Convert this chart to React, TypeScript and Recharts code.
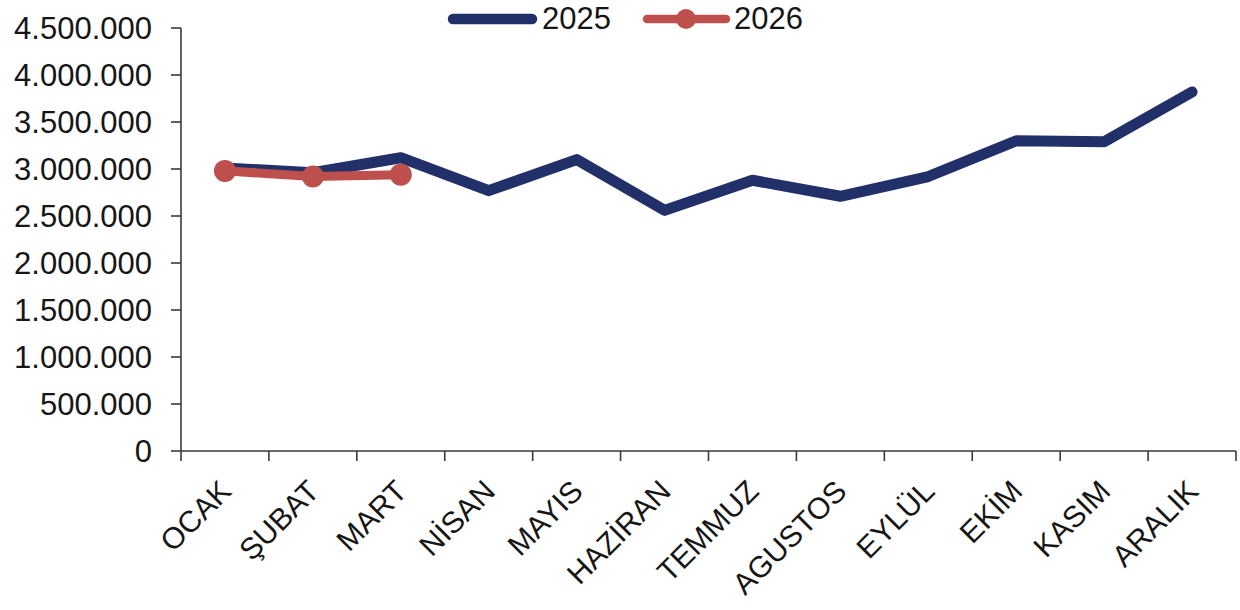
import { Line, LineChart, XAxis, YAxis } from 'recharts'

const months = ['OCAK', 'ŞUBAT', 'MART', 'NİSAN', 'MAYIS', 'HAZİRAN', 'TEMMUZ', 'AGUSTOS', 'EYLÜL', 'EKİM', 'KASIM', 'ARALIK']
const values2025 = [3010000, 2960000, 3120000, 2770000, 3100000, 2560000, 2880000, 2710000, 2920000, 3300000, 3290000, 3820000]
const values2026 = [2980000, 2920000, 2940000]
const yTicks = [0, 500000, 1000000, 1500000, 2000000, 2500000, 3000000, 3500000, 4000000, 4500000]

const data = months.map((month, i) => ({
  month,
  y2025: values2025[i],
  y2026: i < values2026.length ? values2026[i] : null,
}))

const W = 1240
const H = 610
const PLOT_LEFT = 181
const PLOT_RIGHT = 1236
const HALF_BAND = (PLOT_RIGHT - PLOT_LEFT) / months.length / 2

const BLUE = '#22306A'
const RED = '#BD4F4C'
const AXIS = '#3a3a3a'
const FONT = '"Liberation Sans", Arial, sans-serif'

const fmt = (v: number) => String(v).replace(/\B(?=(\d{3})+(?!\d))/g, '.')

function MonthTick(props: any) {
  const { x, y, payload, index } = props
  const last = index === months.length - 1
  const ax = x + 8
  const ay = y + 42
  return (
    <g>
      <line x1={x - HALF_BAND} x2={x - HALF_BAND} y1={y} y2={y + 10} stroke={AXIS} strokeWidth={1.6} />
      {last && <line x1={x + HALF_BAND} x2={x + HALF_BAND} y1={y} y2={y + 10} stroke={AXIS} strokeWidth={1.6} />}
      <text
        x={ax}
        y={ay}
        textAnchor="end"
        transform={`rotate(-45 ${ax} ${ay})`}
        fontSize={30}
        fontFamily={FONT}
        fill="#161616"
      >
        {payload.value}
      </text>
    </g>
  )
}

function TopLegend() {
  return (
    <svg width={W} height={40} style={{ position: 'absolute', left: 0, top: 0 }}>
      <line x1={453} x2={532} y1={19} y2={19} stroke={BLUE} strokeWidth={10.5} strokeLinecap="round" />
      <text x={542} y={29} fontSize={31} fontFamily={FONT} fill="#161616">2025</text>
      <line x1={647} x2={726} y1={19} y2={19} stroke={RED} strokeWidth={8.5} strokeLinecap="round" />
      <circle cx={686} cy={19} r={10} fill={RED} />
      <text x={734} y={29} fontSize={31} fontFamily={FONT} fill="#161616">2026</text>
    </svg>
  )
}

export default function App() {
  return (
    <div style={{ position: 'absolute', left: 0, top: 0, width: W, height: H, background: '#fff' }}>
      <LineChart width={W} height={H} data={data} margin={{ top: 28, right: W - PLOT_RIGHT, left: 0, bottom: 0 }}>
        <XAxis
          dataKey="month"
          interval={0}
          padding={{ left: HALF_BAND, right: HALF_BAND }}
          height={159}
          tickLine={false}
          tickSize={0}
          tickMargin={0}
          axisLine={{ stroke: AXIS, strokeWidth: 1.6 }}
          tick={<MonthTick />}
        />
        <YAxis
          width={PLOT_LEFT}
          domain={[0, 4500000]}
          ticks={yTicks}
          interval={0}
          tickSize={10}
          tickMargin={19}
          tickFormatter={fmt}
          tickLine={{ stroke: AXIS, strokeWidth: 1.6 }}
          axisLine={{ stroke: AXIS, strokeWidth: 1.6 }}
          tick={{ fontSize: 31, fontFamily: FONT, fill: '#161616' }}
        />
        <Line
          dataKey="y2025"
          stroke={BLUE}
          strokeWidth={11}
          strokeLinecap="round"
          strokeLinejoin="round"
          dot={false}
          isAnimationActive={false}
        />
        <Line
          dataKey="y2026"
          stroke={RED}
          strokeWidth={9}
          strokeLinecap="round"
          strokeLinejoin="round"
          dot={{ r: 11, fill: RED, stroke: RED, strokeWidth: 0 }}
          isAnimationActive={false}
        />
      </LineChart>
      <TopLegend />
    </div>
  )
}
